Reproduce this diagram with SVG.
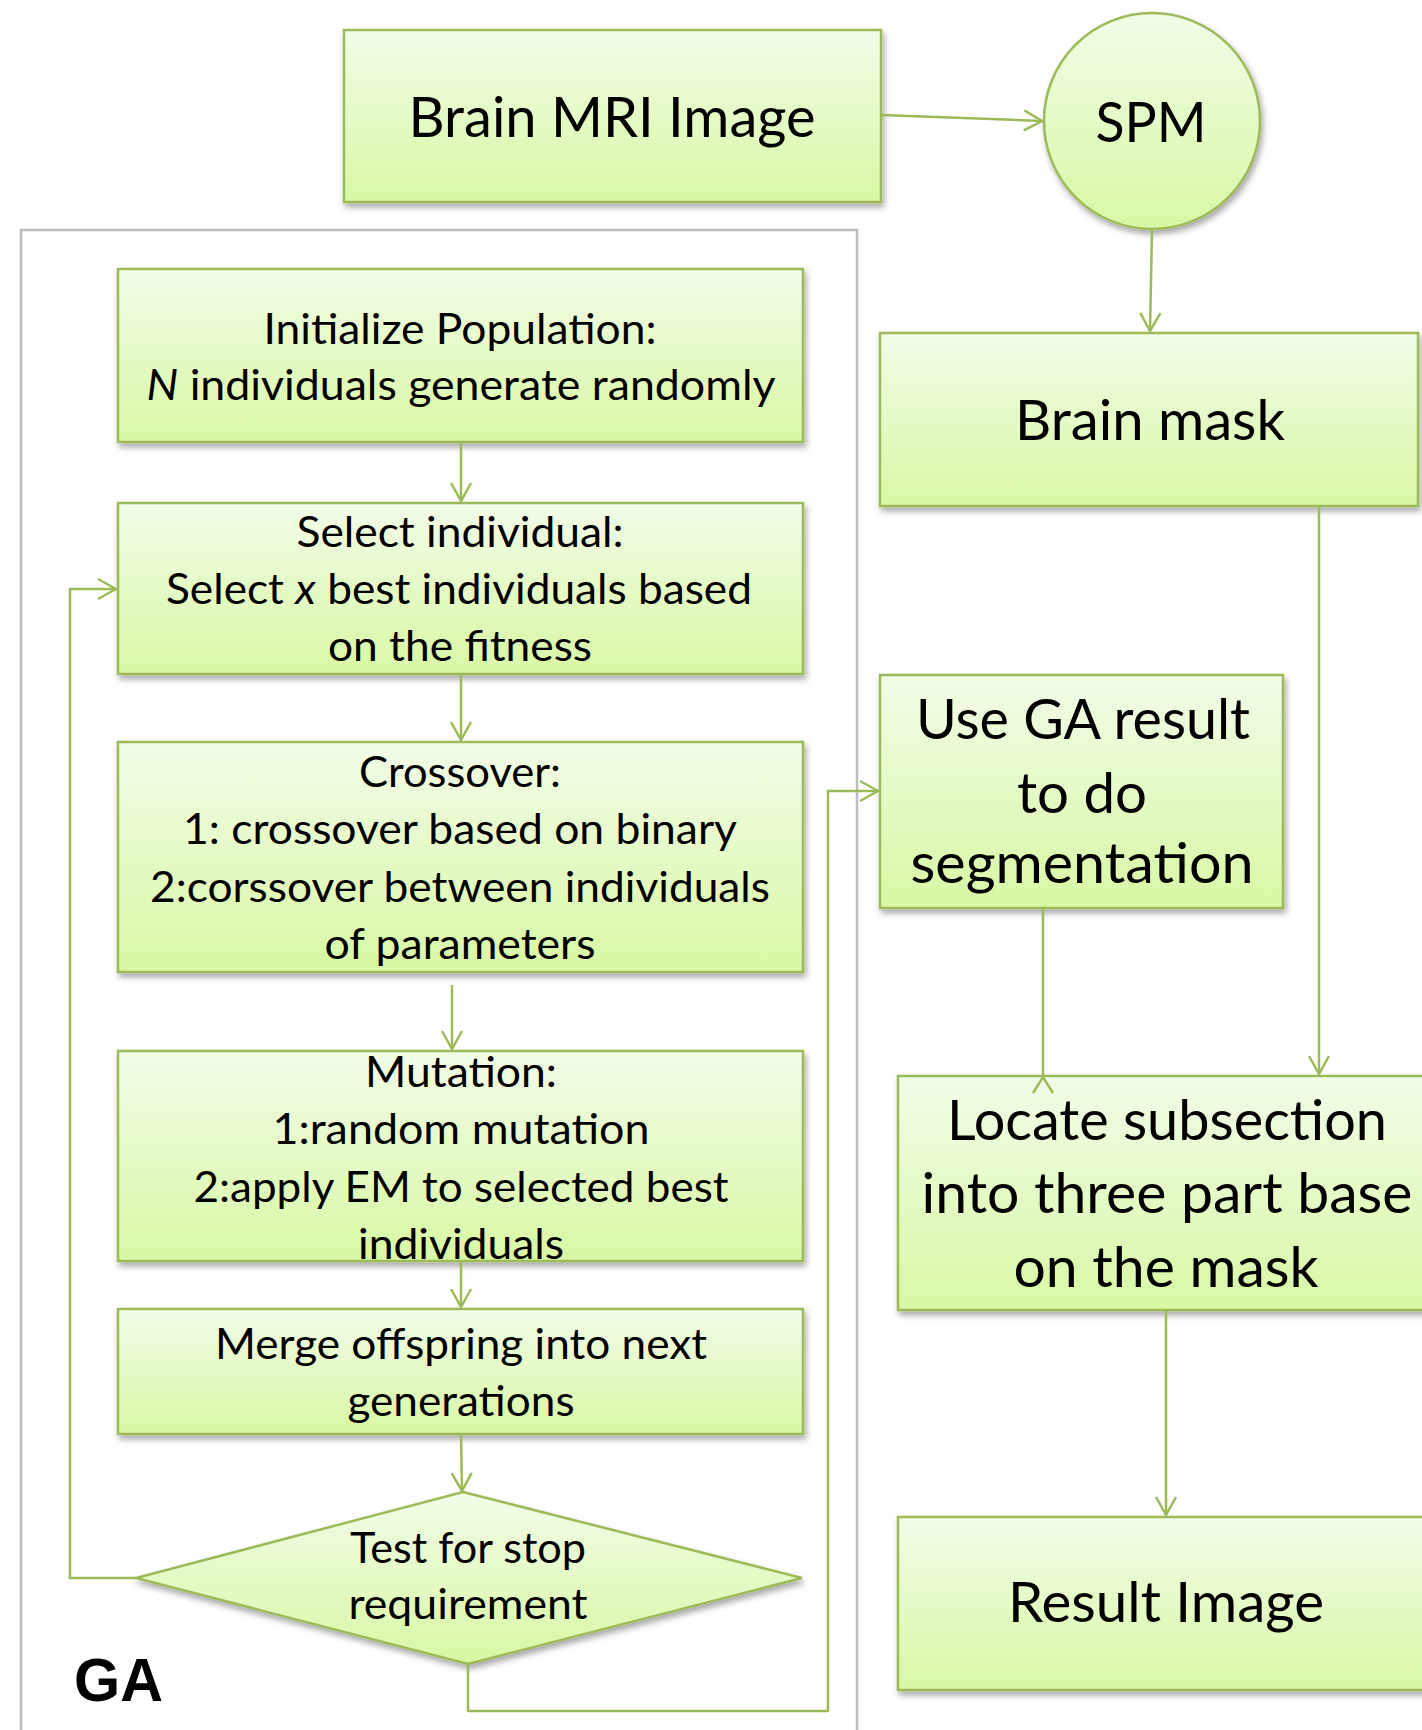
<svg xmlns="http://www.w3.org/2000/svg" width="1422" height="1730" viewBox="0 0 1422 1730">
<style>
.box{fill:url(#g);stroke:#9BBB59;stroke-width:2.5;filter:url(#sh)}
.t{font-family:Lato,"Open Sans","Liberation Sans",sans-serif;fill:#000;text-anchor:middle}
.s{font-size:42px}
.b{font-size:57px}
.c{fill:none;stroke:#9BBB59;stroke-width:2.5}
</style>
<defs>
<linearGradient id="g" x1="0" y1="0" x2="0" y2="1">
<stop offset="0" stop-color="#F2FCE8"/>
<stop offset="1" stop-color="#D8F8A4"/>
</linearGradient>
<filter id="sh" x="-10%" y="-10%" width="125%" height="130%">
<feDropShadow dx="2" dy="4" stdDeviation="3" flood-color="#000" flood-opacity="0.35"/>
</filter>
<marker id="a" viewBox="-20 -12 22 24" markerWidth="22" markerHeight="24" refX="0" refY="0" orient="auto" markerUnits="userSpaceOnUse">
<path d="M-18,-10 L0,0 L-18,10" fill="none" stroke="#9BBB59" stroke-width="2.5"/>
</marker>
</defs>
<rect width="1422" height="1730" fill="#fff"/>
<rect id="ga-frame" x="21" y="230" width="836" height="1530" fill="none" stroke="#BDBDBD" stroke-width="2.5"/>
<text class="t" x="74" y="1701" style="font-family:'Liberation Sans',Arial,sans-serif;font-weight:bold;font-size:61px;text-anchor:start" textLength="89" lengthAdjust="spacingAndGlyphs">GA</text>

<g id="brain-mri">
<rect class="box" x="344" y="30" width="537" height="172"/>
<text class="t" x="612" y="137" style="font-size:56px" textLength="407" lengthAdjust="spacingAndGlyphs">Brain MRI Image</text>
</g>
<g id="spm">
<ellipse class="box" cx="1152" cy="121" rx="108" ry="108"/>
<text class="t b" x="1151" y="142" textLength="111" lengthAdjust="spacingAndGlyphs">SPM</text>
</g>
<g id="brain-mask">
<rect class="box" x="880" y="333" width="538" height="173"/>
<text class="t b" x="1150" y="440" textLength="270" lengthAdjust="spacingAndGlyphs">Brain mask</text>
</g>
<g id="init">
<rect class="box" x="118" y="269" width="685" height="173"/>
<text class="t s" x="460" y="344" textLength="393" lengthAdjust="spacingAndGlyphs">Initialize Population:</text>
<text class="t s" x="461" y="400" textLength="629" lengthAdjust="spacingAndGlyphs"><tspan font-style="italic">N</tspan> individuals generate randomly</text>
</g>
<g id="select">
<rect class="box" x="118" y="503" width="685" height="171"/>
<text class="t s" x="460" y="547" textLength="327" lengthAdjust="spacingAndGlyphs">Select individual:</text>
<text class="t s" x="459" y="604" textLength="586" lengthAdjust="spacingAndGlyphs">Select <tspan font-style="italic">x</tspan> best individuals based</text>
<text class="t s" x="460" y="661" textLength="264" lengthAdjust="spacingAndGlyphs">on the fitness</text>
</g>
<g id="crossover">
<rect class="box" x="118" y="742" width="685" height="230"/>
<text class="t s" x="460" y="787" textLength="202" lengthAdjust="spacingAndGlyphs">Crossover:</text>
<text class="t s" x="460" y="844" textLength="554" lengthAdjust="spacingAndGlyphs">1: crossover based on binary</text>
<text class="t s" x="460" y="902" textLength="620" lengthAdjust="spacingAndGlyphs">2:corssover between individuals</text>
<text class="t s" x="460" y="959" textLength="271" lengthAdjust="spacingAndGlyphs">of parameters</text>
</g>
<g id="mutation">
<rect class="box" x="118" y="1051" width="685" height="210"/>
<text class="t s" x="461" y="1087" textLength="192" lengthAdjust="spacingAndGlyphs">Mutation:</text>
<text class="t s" x="461" y="1144" textLength="377" lengthAdjust="spacingAndGlyphs">1:random mutation</text>
<text class="t s" x="461" y="1202" textLength="535" lengthAdjust="spacingAndGlyphs">2:apply EM to selected best</text>
<text class="t s" x="461" y="1259" textLength="206" lengthAdjust="spacingAndGlyphs">individuals</text>
</g>
<g id="merge">
<rect class="box" x="118" y="1309" width="685" height="125"/>
<text class="t s" x="461" y="1359" textLength="492" lengthAdjust="spacingAndGlyphs">Merge offspring into next</text>
<text class="t s" x="461" y="1416" textLength="227" lengthAdjust="spacingAndGlyphs">generations</text>
</g>
<g id="test">
<polygon class="box" points="463,1492 802,1578 468,1664 136,1578"/>
<text class="t s" x="468" y="1563" textLength="236" lengthAdjust="spacingAndGlyphs">Test for stop</text>
<text class="t s" x="468" y="1619" textLength="239" lengthAdjust="spacingAndGlyphs">requirement</text>
</g>
<g id="use-ga">
<rect class="box" x="880" y="675" width="403" height="233"/>
<text class="t b" x="1083" y="739" textLength="334" lengthAdjust="spacingAndGlyphs">Use GA result</text>
<text class="t b" x="1082" y="813" textLength="130" lengthAdjust="spacingAndGlyphs">to do</text>
<text class="t b" x="1082" y="883" textLength="343" lengthAdjust="spacingAndGlyphs">segmentation</text>
</g>
<g id="locate">
<rect class="box" x="898" y="1076" width="545" height="234"/>
<text class="t b" x="1167" y="1140" textLength="440" lengthAdjust="spacingAndGlyphs">Locate subsection</text>
<text class="t b" x="1167" y="1213" textLength="491" lengthAdjust="spacingAndGlyphs">into three part base</text>
<text class="t b" x="1166" y="1287" textLength="305" lengthAdjust="spacingAndGlyphs">on the mask</text>
</g>
<g id="result">
<rect class="box" x="898" y="1517" width="545" height="173"/>
<text class="t b" x="1166" y="1622" textLength="316" lengthAdjust="spacingAndGlyphs">Result Image</text>
</g>

<g id="connectors">
<path class="c" d="M881,115 L1042,121" marker-end="url(#a)"/>
<path class="c" d="M1152,229 L1150,331" marker-end="url(#a)"/>
<path class="c" d="M1319,506 L1319,1074" marker-end="url(#a)"/>
<path class="c" d="M1043,908 L1043,1077"/>
<path class="c" d="M1033,1093 L1043,1077 L1053,1093"/>
<path class="c" d="M461,442 L461,501" marker-end="url(#a)"/>
<path class="c" d="M461,674 L461,740" marker-end="url(#a)"/>
<path class="c" d="M452,985 L452,1049" marker-end="url(#a)"/>
<path class="c" d="M461,1261 L461,1307" marker-end="url(#a)"/>
<path class="c" d="M461,1434 L462,1491" marker-end="url(#a)"/>
<path class="c" d="M136,1578 L70,1578 L70,589 L116,589" marker-end="url(#a)"/>
<path class="c" d="M468,1664 L468,1711 L828,1711 L828,791 L878,791" marker-end="url(#a)"/>
<path class="c" d="M1166,1310 L1166,1515" marker-end="url(#a)"/>
</g>
</svg>
